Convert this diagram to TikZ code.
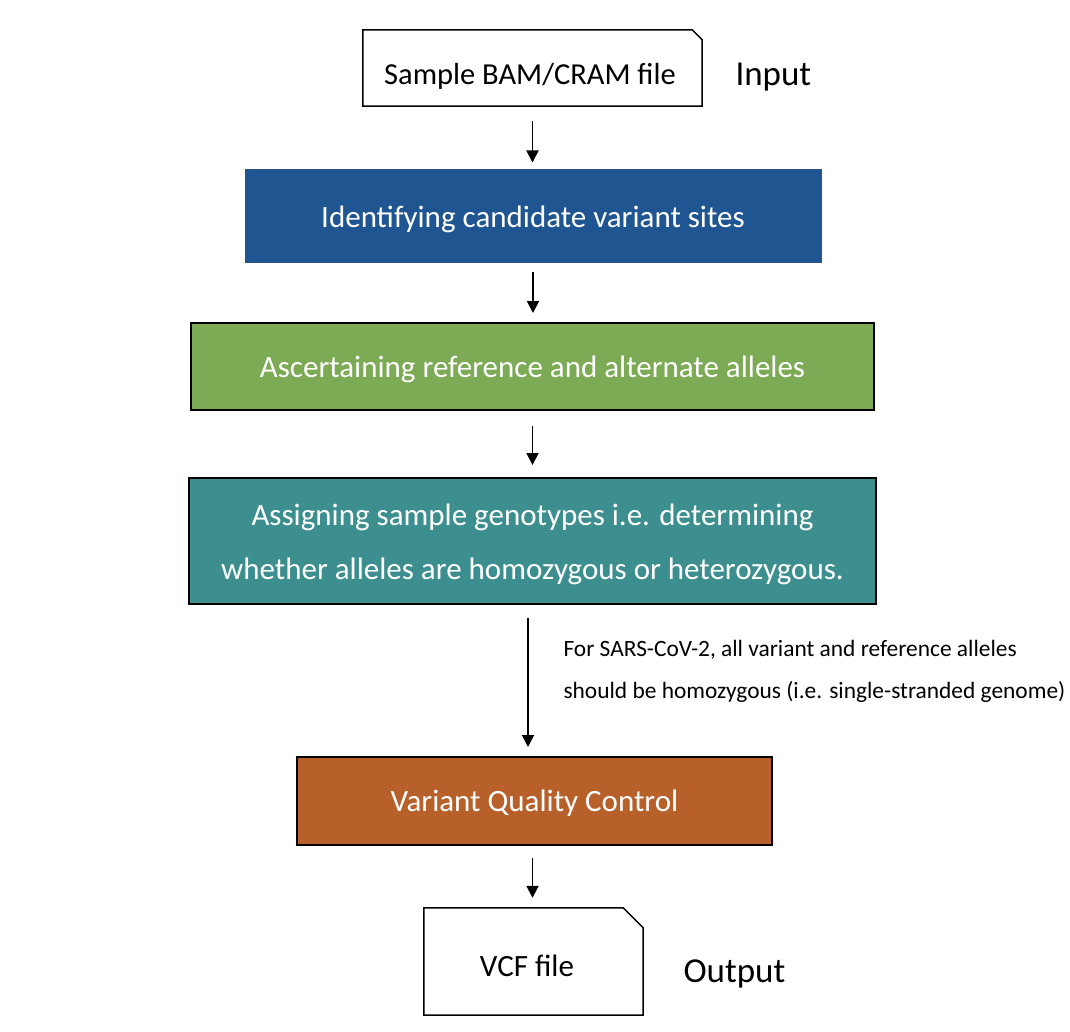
\documentclass[tikz,border=0pt]{standalone}
\usepackage{fontspec}
\setmainfont{Carlito}
\usetikzlibrary{arrows.meta}
\definecolor{cblue}{HTML}{1F5591}
\definecolor{cblueb}{HTML}{2F5283}
\definecolor{cgreen}{HTML}{7DAB55}
\definecolor{cteal}{HTML}{3D8F8F}
\definecolor{corange}{HTML}{B8602A}
\tikzset{
  stepbox/.style={draw=black, line width=2pt, inner sep=0pt},
  steptext/.style={text=white, font=\fontsize{31}{38}\selectfont, inner sep=0pt, align=center, yshift=-3pt},
  flow/.style={-{Triangle[length=12pt,width=12pt]}, line width=1.8pt},
  fileshape/.style={inner sep=0pt},
  filetext/.style={font=\fontsize{30.5}{36}\selectfont, anchor=center},
  fileline/.style={line width=1.5pt},
  sidelabel/.style={font=\fontsize{35}{40}\selectfont, anchor=west},
}
\begin{document}
\begin{tikzpicture}[x=1pt,y=-1pt]
\useasboundingbox (0,0) rectangle (1070,1032);
% input file
\node[fileshape, minimum width=339pt, minimum height=76pt] (in) at (532.5,68) {};
\draw[fileline] (in.north west) -- ([xshift=-10pt]in.north east) -- ([yshift=-10pt]in.north east) -- (in.south east) -- (in.south west) -- cycle;
\node[filetext] (intext) at (530,76) {Sample BAM/CRAM file};
\node[sidelabel] (inlab) at (732,77) {Input};
% blue
\node[stepbox, fill=cblue, draw=cblueb, line width=1pt, minimum width=576pt, minimum height=93pt] (s1) at (533,216.5) {};
\node[steptext] (s1t) at (s1.center) {\strut Identifying candidate variant sites};
% green
\node[stepbox, fill=cgreen, minimum width=683pt, minimum height=87pt] (s2) at (532.5,366.5) {};
\node[steptext] (s2t) at (s2.center) {\strut Ascertaining reference and alternate alleles};
% teal
\node[stepbox, fill=cteal, minimum width=687pt, minimum height=126pt] (s3) at (532.5,541) {};
\node[steptext, font=\fontsize{31}{54}\selectfont] (s3t) at (s3.center) {Assigning sample genotypes i.e. determining\\whether alleles are homozygous or heterozygous.};
% orange
\node[stepbox, fill=corange, minimum width=475pt, minimum height=88pt] (s4) at (534.5,801) {};
\node[steptext] (s4t) at (s4.center) {\strut Variant Quality Control};
% output file
\node[fileshape, minimum width=219pt, minimum height=107pt] (out) at (533.5,961.5) {};
\draw[fileline] (out.north west) -- ([xshift=-20pt]out.north east) -- ([yshift=-20pt]out.north east) -- (out.south east) -- (out.south west) -- cycle;
\node[filetext, font=\fontsize{31}{36}\selectfont] (outtext) at (527,966) {VCF file};
\node[sidelabel] (outlab) at (680,974) {Output};
% annotation
\node[anchor=west, font=\fontsize{23.4}{42}\selectfont, align=left] (note) at (560,671) {For SARS-CoV-2, all variant and reference alleles\\should be homozygous (i.e. single-stranded genome)};
% arrows
\draw[flow, shorten <=15pt, shorten >=7pt] (in.south) -- (in.south |- s1.north);
\draw[flow, shorten <=8pt, shorten >=9pt] (s1.south) -- (s1.south |- s2.north);
\draw[flow, shorten <=15pt, shorten >=12pt] (s2.south) -- (s2.south |- s3.north);
\draw[flow, shorten <=13pt, shorten >=9pt] ([xshift=-4.5pt]s3.south) -- ([xshift=-4.5pt]s3.south |- s4.north);
\draw[flow, shorten <=12pt, shorten >=10pt] ([xshift=-2pt]s4.south) -- ([xshift=-2pt]s4.south |- out.north);
\end{tikzpicture}
\end{document}
